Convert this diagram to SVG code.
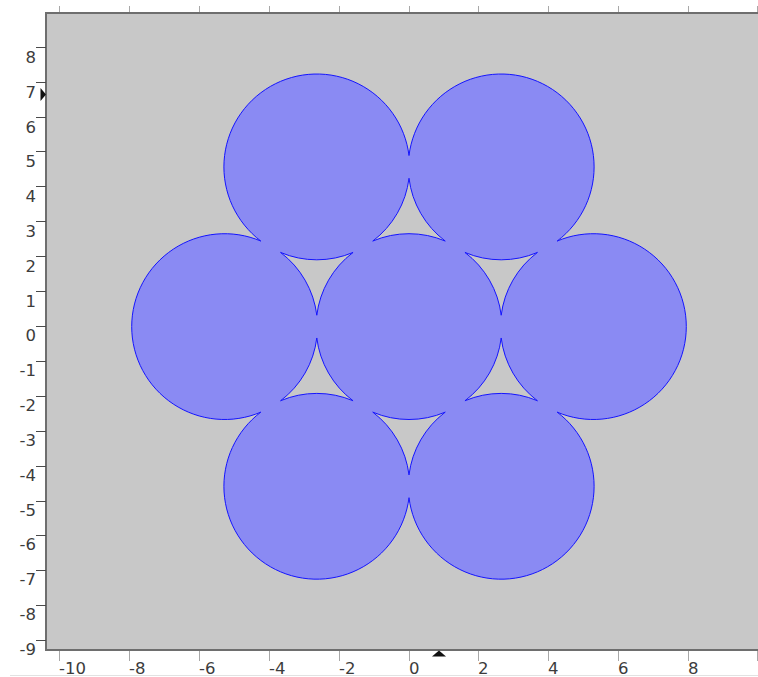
<svg xmlns="http://www.w3.org/2000/svg" width="758" height="677" viewBox="0 0 758 677">
<style>
  .bg { fill: #ffffff; }
  .frame { fill: #c8c8c8; stroke: #6e6e6e; stroke-width: 2; }
  .ytick { stroke: #4a4a4a; stroke-width: 1; }
  .xtick { stroke: #a8a8a8; stroke-width: 1; }
  .lbl { font-family: "DejaVu Sans", "Liberation Sans", sans-serif; font-size: 16.5px; fill: #3c3c3c; }
  .ylbl { text-anchor: end; }
  .domain { fill: #8a8af3; stroke: #1414ff; stroke-width: 1; fill-rule: evenodd; stroke-linejoin: miter; stroke-miterlimit: 40; }
  .marker { fill: #111111; }
</style>
<rect class="bg" x="0" y="0" width="758" height="677"/>
<line x1="10" y1="675.5" x2="758" y2="675.5" stroke="#e2e2e2" stroke-width="1"/>
<rect class="frame" x="46" y="13" width="730" height="637"/>

<g id="top-ticks" class="xtick">
  <line x1="59.5" y1="6" x2="59.5" y2="12"/>
  <line x1="129.5" y1="6" x2="129.5" y2="12"/>
  <line x1="199.5" y1="6" x2="199.5" y2="12"/>
  <line x1="269.5" y1="6" x2="269.5" y2="12"/>
  <line x1="339.5" y1="6" x2="339.5" y2="12"/>
  <line x1="409.5" y1="6" x2="409.5" y2="12"/>
  <line x1="478.5" y1="6" x2="478.5" y2="12"/>
  <line x1="548.5" y1="6" x2="548.5" y2="12"/>
  <line x1="618.5" y1="6" x2="618.5" y2="12"/>
  <line x1="688.5" y1="6" x2="688.5" y2="12"/>
  <line x1="757.5" y1="6" x2="757.5" y2="12"/>
</g>

<g id="bottom-ticks" class="xtick">
  <line x1="59.5" y1="651" x2="59.5" y2="661"/>
  <line x1="129.5" y1="651" x2="129.5" y2="661"/>
  <line x1="199.5" y1="651" x2="199.5" y2="661"/>
  <line x1="269.5" y1="651" x2="269.5" y2="661"/>
  <line x1="339.5" y1="651" x2="339.5" y2="661"/>
  <line x1="409.5" y1="651" x2="409.5" y2="661"/>
  <line x1="478.5" y1="651" x2="478.5" y2="661"/>
  <line x1="548.5" y1="651" x2="548.5" y2="661"/>
  <line x1="618.5" y1="651" x2="618.5" y2="661"/>
  <line x1="688.5" y1="651" x2="688.5" y2="661"/>
  <line x1="757.5" y1="651" x2="757.5" y2="661"/>
</g>

<g id="x-labels" class="lbl">
  <text x="59" y="674">-10</text>
  <text x="129" y="674">-8</text>
  <text x="199" y="674">-6</text>
  <text x="269" y="674">-4</text>
  <text x="339" y="674">-2</text>
  <text x="409" y="674">0</text>
  <text x="478" y="674">2</text>
  <text x="548" y="674">4</text>
  <text x="618" y="674">6</text>
  <text x="688" y="674">8</text>
</g>

<g id="left-ticks" class="ytick">
  <line x1="36" y1="47.5" x2="46" y2="47.5"/>
  <line x1="36" y1="82.5" x2="46" y2="82.5"/>
  <line x1="36" y1="117.5" x2="46" y2="117.5"/>
  <line x1="36" y1="151.5" x2="46" y2="151.5"/>
  <line x1="36" y1="186.5" x2="46" y2="186.5"/>
  <line x1="36" y1="221.5" x2="46" y2="221.5"/>
  <line x1="36" y1="256.5" x2="46" y2="256.5"/>
  <line x1="36" y1="291.5" x2="46" y2="291.5"/>
  <line x1="36" y1="326.5" x2="46" y2="326.5"/>
  <line x1="36" y1="361.5" x2="46" y2="361.5"/>
  <line x1="36" y1="396.5" x2="46" y2="396.5"/>
  <line x1="36" y1="431.5" x2="46" y2="431.5"/>
  <line x1="36" y1="466.5" x2="46" y2="466.5"/>
  <line x1="36" y1="501.5" x2="46" y2="501.5"/>
  <line x1="36" y1="535.5" x2="46" y2="535.5"/>
  <line x1="36" y1="570.5" x2="46" y2="570.5"/>
  <line x1="36" y1="605.5" x2="46" y2="605.5"/>
  <line x1="36" y1="640.5" x2="46" y2="640.5"/>
</g>

<g id="y-labels" class="lbl ylbl">
  <text x="36" y="62.5">8</text>
  <text x="36" y="97.5">7</text>
  <text x="36" y="132.5">6</text>
  <text x="36" y="166.5">5</text>
  <text x="36" y="201.5">4</text>
  <text x="36" y="236.5">3</text>
  <text x="36" y="271.5">2</text>
  <text x="36" y="306.5">1</text>
  <text x="36" y="341">0</text>
  <text x="36" y="376">-1</text>
  <text x="36" y="411">-2</text>
  <text x="36" y="446">-3</text>
  <text x="36" y="481">-4</text>
  <text x="36" y="516">-5</text>
  <text x="36" y="550">-6</text>
  <text x="36" y="585">-7</text>
  <text x="36" y="620">-8</text>
  <text x="36" y="655">-9</text>
</g>

<g id="geometry">
  <path class="domain" d="
    M557.16,241.06
    A92.9,92.9 0 1 1 557.16,412.14
    A92.9,92.9 0 1 1 409,497.68
    A92.9,92.9 0 1 1 260.84,412.14
    A92.9,92.9 0 1 1 260.84,241.06
    A92.9,92.9 0 1 1 409,155.52
    A92.9,92.9 0 1 1 557.16,241.06 Z
    M537.45,400.76 A92.9,92.9 0 0 0 464.955,400.76 A92.9,92.9 0 0 0 501.2,337.98 A92.9,92.9 0 0 0 537.45,400.76 Z
    M409,474.92 A92.9,92.9 0 0 0 372.755,412.14 A92.9,92.9 0 0 0 445.245,412.14 A92.9,92.9 0 0 0 409,474.92 Z
    M280.55,400.76 A92.9,92.9 0 0 0 316.8,337.98 A92.9,92.9 0 0 0 353.045,400.76 A92.9,92.9 0 0 0 280.55,400.76 Z
    M280.55,252.44 A92.9,92.9 0 0 0 353.045,252.44 A92.9,92.9 0 0 0 316.8,315.22 A92.9,92.9 0 0 0 280.55,252.44 Z
    M409,178.28 A92.9,92.9 0 0 0 445.245,241.06 A92.9,92.9 0 0 0 372.755,241.06 A92.9,92.9 0 0 0 409,178.28 Z
    M537.45,252.44 A92.9,92.9 0 0 0 501.2,315.22 A92.9,92.9 0 0 0 464.955,252.44 A92.9,92.9 0 0 0 537.45,252.44 Z"/>
</g>

<g id="markers">
  <polygon class="marker" points="40.5,88 46,94.5 40.5,101"/>
  <polygon class="marker" points="432,656.5 439,650.5 446,656.5"/>
</g>
</svg>
